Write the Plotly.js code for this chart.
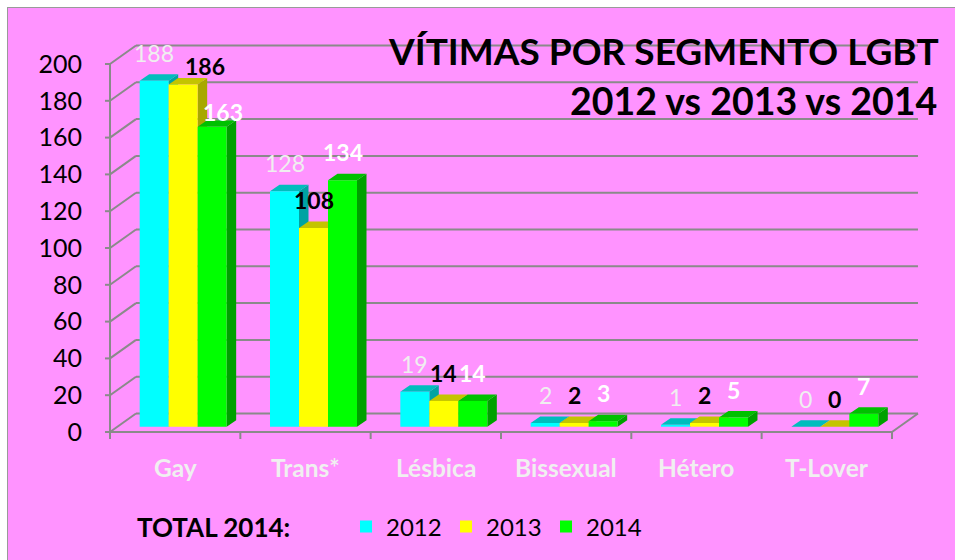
<!DOCTYPE html>
<html>
<head>
<meta charset="utf-8">
<script src="https://cdn.plot.ly/plotly-3.0.1.min.js"></script>
<style>
  html, body { margin: 0; padding: 0; background: #ffffff; overflow: hidden; }
  #frame { position: absolute; left: 7px; top: 7px; width: 960px; height: 560px;
           background: #FF93FF; border: 1.5px solid #9a9a9a; box-sizing: border-box; }
  #chart { position: absolute; left: 0; top: 0; width: 955px; height: 560px; }
</style>
</head>
<body>
<div id="frame"></div>
<div id="chart"></div>
<script>
// ---- data ----
const categories = ['Gay', 'Trans*', 'Lésbica', 'Bissexual', 'Hétero', 'T-Lover'];
const seriesNames = ['2012', '2013', '2014'];
const values2012 = [188, 128, 19, 2, 1, 0];
const values2013 = [186, 108, 14, 2, 2, 0];
const values2014 = [163, 134, 14, 3, 5, 7];
const yTickValues = [0, 20, 40, 60, 80, 100, 120, 140, 160, 180, 200];
const titleLines = ['VÍTIMAS POR SEGMENTO LGBT', '2012 vs 2013 vs 2014'];
const footerLabel = 'TOTAL 2014:';

// ---- styling / geometry ----
const seriesValues = [values2012, values2013, values2014];
const frontColors = ['#00FFFF', '#FFFF00', '#00FF00'];
const topColors   = ['#00BDBD', '#C4C400', '#00C000'];
const sideColors  = ['#00A3A3', '#A8A800', '#00A000'];
const labelColors = ['#EFEFEF', '#000000', '#FFFFFF'];
const labelBold   = [false, true, true];
const labelShift  = { '0,1': [22, 18.5], '0,2': [11, 15] }; // [xshift, yshift] exceptions
const FONT = 'Lato, "Open Sans", sans-serif';
const GRID = '#8a8a8a';

const W = 955, H = 560;
const M = { l: 105, r: 29, t: 40, b: 119 };
const plotW = W - M.l - M.r, plotH = H - M.t - M.b;
const pxX = 130.33, pxY = 1.84;       // pixels per category / per unit
const barX0 = 118, barY0 = 426.7;     // pixel of x=-0.5 and y=0 on the bar plane
const xRange = [-0.5 - (barX0 - M.l) / pxX];
xRange.push(xRange[0] + plotW / pxX);
const yRange = [-((M.t + plotH) - barY0) / pxY];
yRange.push(yRange[0] + plotH / pxY);
const paperX = px => (px - M.l) / plotW;
const paperY = py => 1 - (py - M.t) / plotH;

// depth offsets (pixels -> data units)
const fdx = -8 / pxX, fdy = -5.3 / pxY;   // front plane relative to bar plane
const bdx = 18 / pxX, bdy = 13.2 / pxY;   // back plane relative to bar plane
const bardx = 9.5 / pxX, bardy = 6.5 / pxY; // bar depth
const bw = 29 / pxX;                      // bar width
const nCat = categories.length;
const idx = categories.map((_, i) => i);

const traces = seriesValues.map((vals, k) => ({
  type: 'bar', name: seriesNames[k], x: idx, y: vals,
  width: bw, offset: -1.5 * bw + k * bw,
  marker: { color: frontColors[k], line: { width: 0 } },
  hoverinfo: 'skip'
}));

const shapes = [];
const line = (x0, y0, x1, y1) => ({ type: 'line', xref: 'x', yref: 'y', x0, y0, x1, y1,
  line: { color: GRID, width: 2 }, layer: 'below' });
const left = -0.5, right = nCat - 0.5;
// back wall gridlines, left wall diagonals, front axis ticks
yTickValues.forEach(v => {
  shapes.push(line(left + bdx, v + bdy, right + bdx, v + bdy));
  shapes.push(line(left + fdx, v + fdy, left + bdx, v + bdy));
  shapes.push(line(left + fdx - 7 / pxX, v + fdy, left + fdx, v + fdy));
});
// front axis, floor front edge, floor right edge
shapes.push(line(left + fdx, fdy, left + fdx, yTickValues[yTickValues.length - 1] + fdy));
shapes.push(line(left + fdx, fdy, right + fdx, fdy));
shapes.push(line(right + fdx, fdy, right + bdx, bdy));
for (let k = 0; k <= nCat; k++) {
  shapes.push(line(k - 0.5 + fdx, fdy, k - 0.5 + fdx, fdy - 7 / pxY));
}
// 3D faces of bars (drawn between gridlines and traces)
idx.forEach(i => {
  seriesValues.forEach((vals, k) => {
    const v = vals[i];
    const xl = i - 1.5 * bw + k * bw, xr = xl + bw;
    shapes.push({ type: 'path', xref: 'x', yref: 'y', layer: 'between',
      path: `M${xr},0 L${xr + bardx},${bardy} L${xr + bardx},${v + bardy} L${xr},${v} Z`,
      fillcolor: sideColors[k], line: { width: 0 } });
    shapes.push({ type: 'path', xref: 'x', yref: 'y', layer: 'between',
      path: `M${xl},${v} L${xr},${v} L${xr + bardx},${v + bardy} L${xl + bardx},${v + bardy} Z`,
      fillcolor: topColors[k], line: { width: 0 } });
  });
});

const annotations = [];
// value labels
idx.forEach(i => {
  seriesValues.forEach((vals, k) => {
    const sh = labelShift[i + ',' + k] || [0, 28];
    const txt = String(vals[i]);
    annotations.push({ xref: 'x', yref: 'y', x: i - 1.5 * bw + k * bw + bw / 2, y: vals[i],
      text: labelBold[k] ? '<b>' + txt + '</b>' : txt, showarrow: false,
      xanchor: 'center', yanchor: 'middle', xshift: sh[0], yshift: sh[1],
      font: { family: FONT, size: 23, color: labelColors[k] } });
  });
});
// category labels on the front plane
categories.forEach((c, i) => {
  annotations.push({ xref: 'x', yref: 'y', x: i + fdx, y: fdy, yshift: -35,
    text: '<b>' + c + '</b>', showarrow: false, xanchor: 'center', yanchor: 'middle',
    font: { family: FONT, size: 24.5, color: '#F0F0F0' } });
});
// title lines
annotations.push({ xref: 'paper', yref: 'paper', x: paperX(941), y: paperY(50),
  text: '<b>' + titleLines[0] + '</b>', showarrow: false, xanchor: 'right', yanchor: 'middle',
  font: { family: FONT, size: 37, color: '#000000' } });
annotations.push({ xref: 'paper', yref: 'paper', x: paperX(939), y: paperY(101),
  text: '<b>' + titleLines[1] + '</b>', showarrow: false, xanchor: 'right', yanchor: 'middle',
  font: { family: FONT, size: 37.5, color: '#000000' } });
// footer label
annotations.push({ xref: 'paper', yref: 'paper', x: paperX(135), y: paperY(527),
  text: '<b>' + footerLabel + '</b>', showarrow: false, xanchor: 'left', yanchor: 'middle',
  font: { family: FONT, size: 26, color: '#000000' } });

const layout = {
  width: W, height: H, margin: M,
  paper_bgcolor: 'rgba(0,0,0,0)', plot_bgcolor: 'rgba(0,0,0,0)',
  barmode: 'overlay', showlegend: true,
  xaxis: { range: xRange, visible: false, fixedrange: true },
  yaxis: { range: yRange, visible: false, fixedrange: true },
  yaxis2: { overlaying: 'y', anchor: 'free', side: 'left',
    position: (barX0 - 8 - M.l) / plotW,
    range: [yRange[0] - fdy, yRange[1] - fdy], tickmode: 'array', tickvals: yTickValues,
    ticks: '', showline: false, showgrid: false, zeroline: false,
    ticklabelstandoff: 28,
    tickfont: { family: FONT, size: 25, color: '#000000' } },
  legend: { orientation: 'h', xref: 'container', yref: 'container',
    x: 346 / W, y: 1 - 527 / H, xanchor: 'left', yanchor: 'middle',
    entrywidth: 55, entrywidthmode: 'pixels',
    bgcolor: 'rgba(0,0,0,0)', font: { family: FONT, size: 24, color: '#000000' } },
  shapes, annotations
};
// an invisible point on yaxis2 so that axis is drawn
traces.push({ type: 'scatter', x: [0], y: [0], yaxis: 'y2', mode: 'markers',
  marker: { opacity: 0 }, showlegend: false, hoverinfo: 'skip' });

Plotly.newPlot('chart', traces, layout, { staticPlot: true });
</script>
</body>
</html>
